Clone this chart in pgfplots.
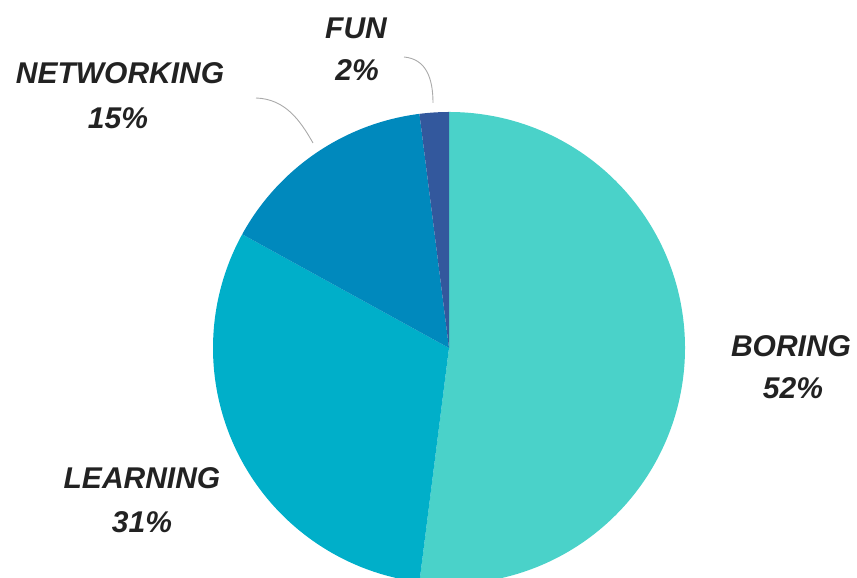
\documentclass[border=0pt]{standalone}
\usepackage{pgfplots}
\usepackage{pgfplotstable}
\usepackage{fontspec}
\setmainfont{Liberation Sans}
\pgfplotsset{compat=1.18}
\definecolor{cBoring}{HTML}{4AD2C9}
\definecolor{cLearning}{HTML}{00AFC9}
\definecolor{cNetworking}{HTML}{0089BD}
\definecolor{cFun}{HTML}{33589D}
\definecolor{txt}{HTML}{222222}
\definecolor{lead}{HTML}{AAAAAA}

\pgfplotstableread{
label value
BORING 52
LEARNING 31
NETWORKING 15
FUN 2
}\piedata

\pgfplotstablegetelem{0}{value}\of\piedata \let\vA\pgfplotsretval
\pgfplotstablegetelem{1}{value}\of\piedata \let\vB\pgfplotsretval
\pgfplotstablegetelem{2}{value}\of\piedata \let\vC\pgfplotsretval
\pgfplotstablegetelem{3}{value}\of\piedata \let\vD\pgfplotsretval
\pgfmathsetmacro\aA{90}
\pgfmathsetmacro\aB{\aA-3.6*\vA}
\pgfmathsetmacro\aC{\aB-3.6*\vB}
\pgfmathsetmacro\aD{\aC-3.6*\vC}
\pgfmathsetmacro\aE{\aD-3.6*\vD}

\begin{document}
\begin{tikzpicture}
\begin{axis}[x=1bp, y=1bp, xmin=0, xmax=857, ymin=0, ymax=578,
  scale only axis, hide axis, clip=true]
\fill[cBoring] (axis cs:449,230) -- ++(\aA:236bp) arc[start angle=\aA, end angle=\aB, radius=236bp] -- cycle;
\fill[cLearning] (axis cs:449,230) -- ++(\aB:236bp) arc[start angle=\aB, end angle=\aC, radius=236bp] -- cycle;
\fill[cNetworking] (axis cs:449,230) -- ++(\aC:236bp) arc[start angle=\aC, end angle=\aD, radius=236bp] -- cycle;
\fill[cFun] (axis cs:449,230) -- ++(\aD:236bp) arc[start angle=\aD, end angle=\aE, radius=236bp] -- cycle;
\draw[lead, line width=0.9bp] (axis cs:256,480) .. controls (axis cs:285,479) and (axis cs:300,458) .. (axis cs:313,435);
\draw[lead, line width=0.9bp] (axis cs:404,521) .. controls (axis cs:426,519) and (axis cs:433,500) .. (axis cs:433,475);
\begin{scope}[every node/.style={text=txt, font=\fontsize{30bp}{33bp}\selectfont\bfseries\itshape, inner sep=0pt}]
\node at (axis cs:791,232) {BORING};
\node at (axis cs:793,190) {52\%};
\node at (axis cs:142,100) {LEARNING};
\node at (axis cs:142,56) {31\%};
\node at (axis cs:120,505) {NETWORKING};
\node at (axis cs:118,460) {15\%};
\node at (axis cs:356,550) {FUN};
\node at (axis cs:357,508) {2\%};
\end{scope}
\coordinate (ll) at (axis cs:0,0);
\coordinate (ur) at (axis cs:857,578);
\end{axis}
\pgfresetboundingbox
\path[use as bounding box] (ll) rectangle (ur);
\end{tikzpicture}
\end{document}
